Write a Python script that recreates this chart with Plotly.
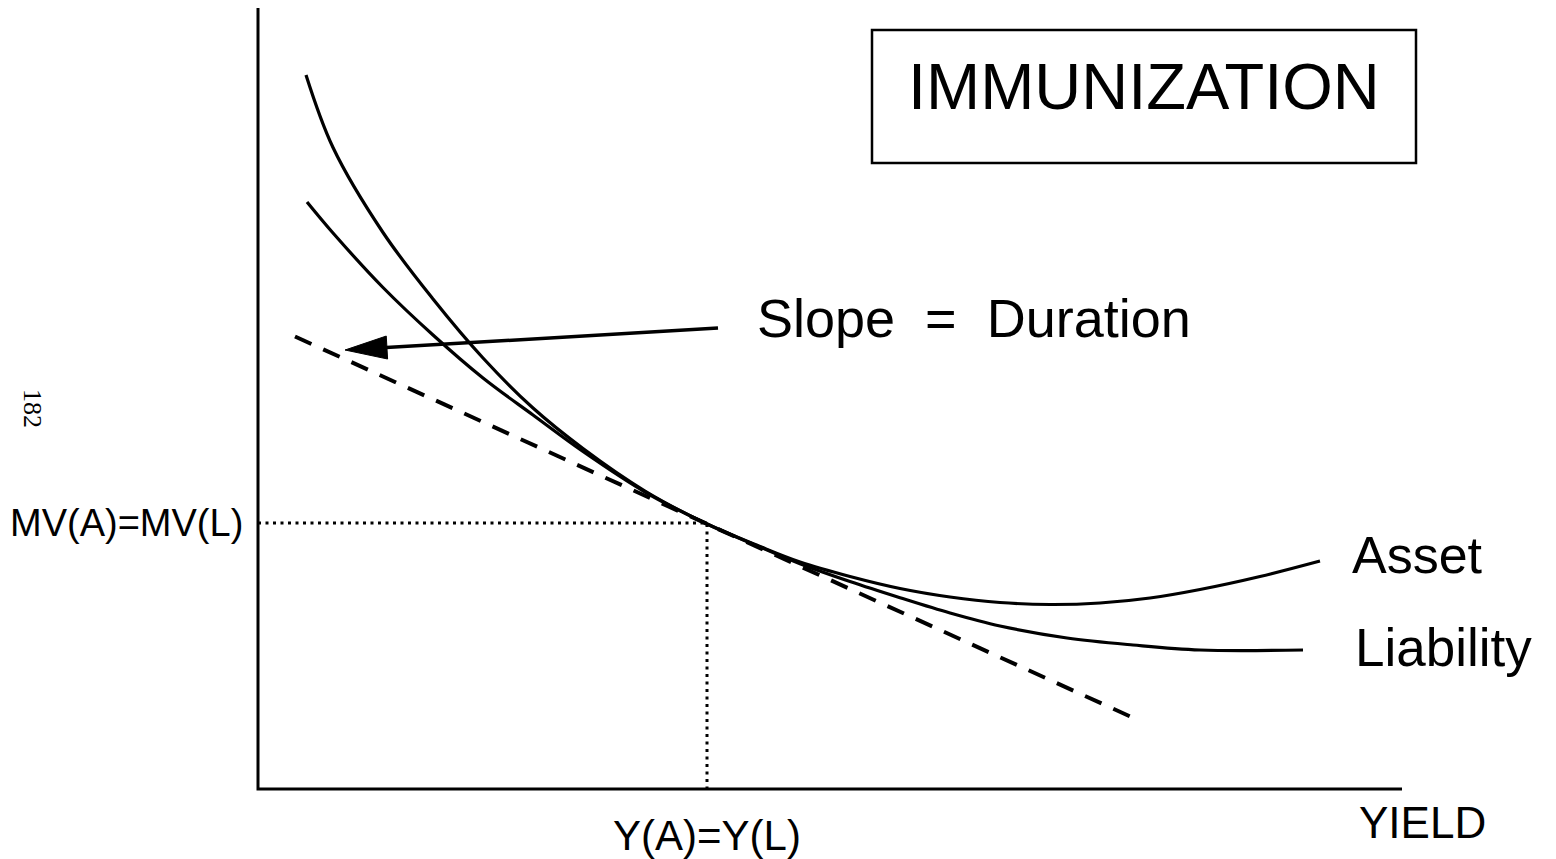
import numpy as np
import plotly.graph_objects as go

# ---- data (chart units: yield to the right, market value upward; origin at axes corner)
asset_x = [48, 75, 125, 175, 225, 275, 325, 387, 447, 502, 542, 592, 642, 692, 742, 792, 842, 892, 942, 1002, 1062]
asset_y = [714, 641.5, 556.5, 490, 431, 381, 340.5, 298, 266, 242.5, 227, 212.5, 200.5, 192, 186.5, 184.5, 186, 191, 199.5, 212.5, 228]

liab_x = [49, 75, 125, 175, 225, 275, 325, 387, 447, 502, 542, 592, 642, 692, 742, 809, 875, 942, 1045]
liab_y = [587, 556, 501.5, 454, 411, 374, 337.5, 297, 266, 242, 225.3, 207.5, 191.3, 176, 163, 151, 144, 139, 139]

tangent_x = [37, 872]
tangent_y = [452.5, 72.6]

match_x = 449          # Y(A)=Y(L)
match_y = 266          # MV(A)=MV(L)

arrow_tail = (460, 461)
arrow_tip = (87, 439)

x_axis_end = 1144
y_axis_end = 783

title_box_x = [614, 1158]
title_box_y = [626, 759]

# page has an 8px body margin: figure of 1548x851 placed at (8,8)
XR = [-250, 1298]
YR = [-70, 781]

BLACK = "#000000"
FONT = "Liberation Sans"

fig = go.Figure()

# axes
fig.add_trace(go.Scatter(x=[0, 0, x_axis_end], y=[y_axis_end, 0, 0], mode="lines",
                         line=dict(color=BLACK, width=3), hoverinfo="skip"))

# dotted guide lines
fig.add_trace(go.Scatter(x=[0, match_x, match_x], y=[match_y, match_y, 0], mode="lines",
                         line=dict(color=BLACK, width=3, dash="3px,4.5px"), hoverinfo="skip"))

# tangent (duration) line
fig.add_trace(go.Scatter(x=tangent_x, y=tangent_y, mode="lines",
                         line=dict(color=BLACK, width=4, dash="18px,13px"), hoverinfo="skip"))

# curves
fig.add_trace(go.Scatter(x=asset_x, y=asset_y, mode="lines", line_shape="spline",
                         line=dict(color=BLACK, width=3.2), hoverinfo="skip"))
fig.add_trace(go.Scatter(x=liab_x, y=liab_y, mode="lines", line_shape="spline",
                         line=dict(color=BLACK, width=3.2), hoverinfo="skip"))

# arrow
tx, ty = arrow_tail
hx, hy = arrow_tip
d = np.array([hx - tx, hy - ty], dtype=float)
d /= np.linalg.norm(d)
n = np.array([-d[1], d[0]])
head_len, head_half = 42, 11.5
base = np.array([hx, hy]) - d * head_len
fig.add_trace(go.Scatter(x=[tx, base[0] + d[0] * 5], y=[ty, base[1] + d[1] * 5], mode="lines",
                         line=dict(color=BLACK, width=3.5), hoverinfo="skip"))
tri = [np.array([hx, hy]), base + n * head_half, base - n * head_half, np.array([hx, hy])]
fig.add_trace(go.Scatter(x=[p[0] for p in tri], y=[p[1] for p in tri], mode="lines",
                         fill="toself", fillcolor=BLACK, line=dict(color=BLACK, width=1),
                         hoverinfo="skip"))

# title box
fig.add_shape(type="rect", x0=title_box_x[0], x1=title_box_x[1], y0=title_box_y[0], y1=title_box_y[1],
              line=dict(color=BLACK, width=2.5), xref="x", yref="y")

def txt(x, y, s, size, anchor="left", family=FONT, angle=0):
    fig.add_annotation(x=x, y=y, text=s, showarrow=False, xanchor=anchor, yanchor="middle",
                       textangle=angle, font=dict(family=family, size=size, color=BLACK))

txt((title_box_x[0] + title_box_x[1]) / 2, 703, "IMMUNIZATION", 65, anchor="center")
txt(497, 471, "Slope\u00a0\u00a0=\u00a0\u00a0Duration", 54)
txt(1092, 234, "Asset", 52)
txt(1095, 142, "Liability", 53)
txt(-13, match_y, "MV(A)=MV(L)", 38, anchor="right")
txt(match_x, -46, "Y(A)=Y(L)", 42, anchor="center")
txt(1099, -33, "YIELD", 44)
txt(-225, 381, "182", 26, anchor="center", family="Liberation Serif", angle=90)

fig.update_layout(
    width=1548, height=851,
    margin=dict(l=0, r=0, t=0, b=0),
    paper_bgcolor="white", plot_bgcolor="white",
    showlegend=False,
    xaxis=dict(range=XR, visible=False, fixedrange=True),
    yaxis=dict(range=YR, visible=False, fixedrange=True),
)

fig.write_html("out.html")
